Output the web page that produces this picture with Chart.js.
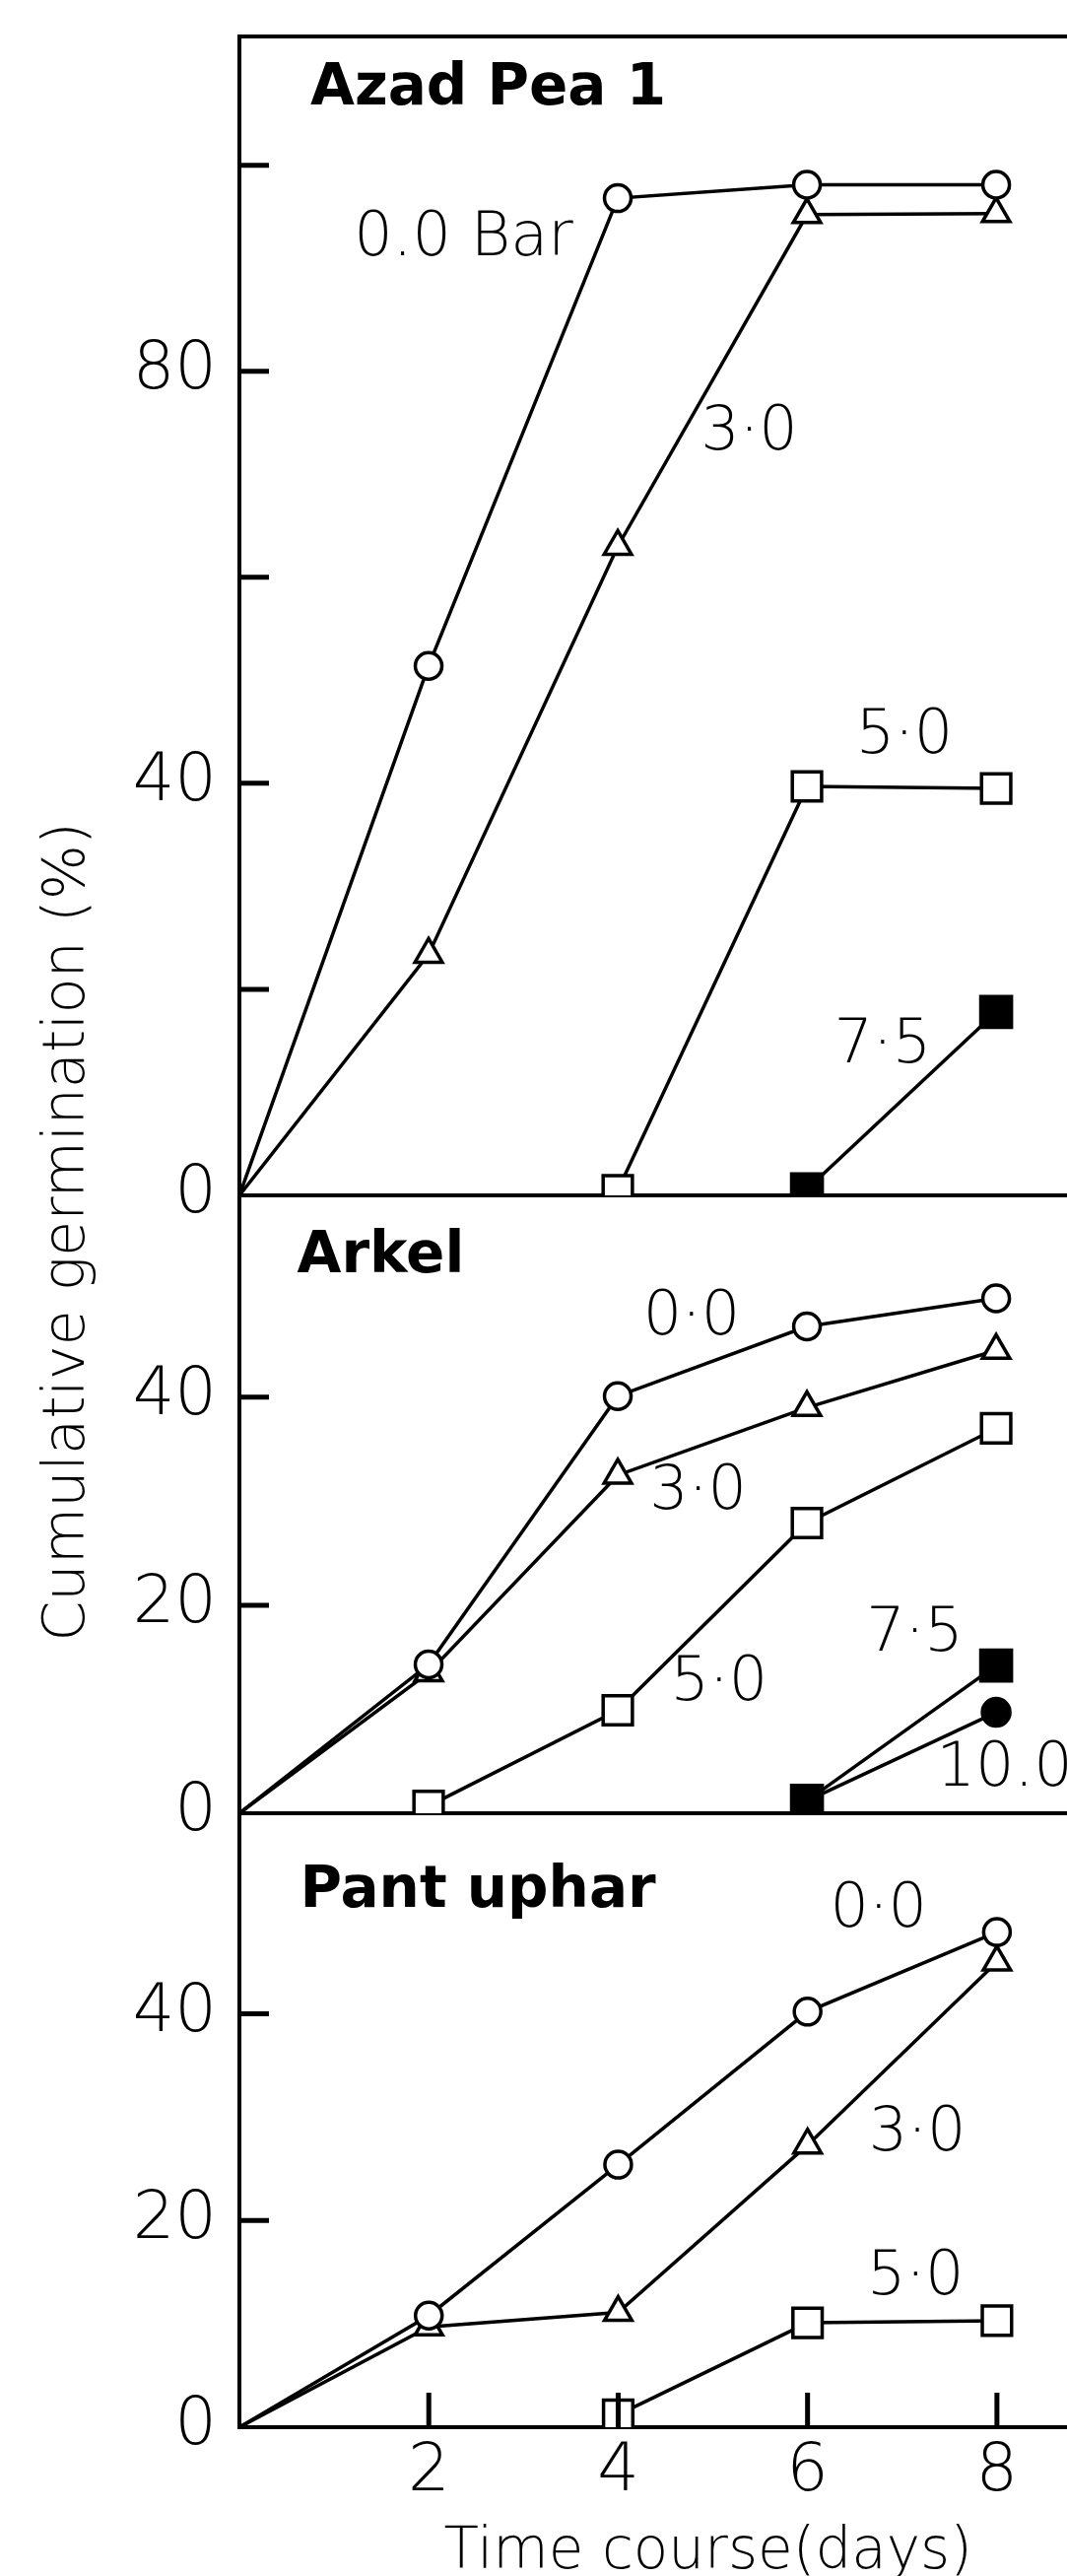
<!DOCTYPE html>
<html>
<head>
<meta charset="utf-8">
<title>Cumulative germination</title>
<script src="https://cdn.jsdelivr.net/npm/chart.js@4.4.1/dist/chart.umd.min.js"></script>
<style>
  html, body { margin: 0; padding: 0; background: #fff; overflow: hidden; }
  #figure { position: relative; width: 1083px; height: 2614px; overflow: hidden; background: #fff; }
  #figure canvas { position: absolute; left: 0; top: 0; }
</style>
</head>
<body>
<div id="figure">
  <canvas id="frame" width="1219" height="2614"></canvas>
  <canvas id="azad" width="1219" height="2614"></canvas>
  <canvas id="arkel" width="1219" height="2614"></canvas>
  <canvas id="pant" width="1219" height="2614"></canvas>
</div>
<script>
// sampling days (x) shared by every series
const days = [0, 2, 4, 6, 8];

// Azad Pea 1, cumulative germination (%) per osmotic potential (bar)
const azad00 = [0, 51.4, 96.8, 98.1, 98.1];
const azad30 = [0, 23.4, 63.0, 95.2, 95.3];
const azad50 = [null, null, 0.5, 39.7, 39.5];
const azad75 = [null, null, null, 0.6, 17.8];

// Arkel
const arkel00 = [0, 14.3, 40.1, 46.8, 49.5];
const arkel30 = [0, 13.5, 32.5, 39.0, 44.5];
const arkel50 = [null, 0.7, 9.9, 27.9, 37.0];
const arkel75 = [null, null, null, 1.2, 14.2];
const arkel100 = [null, null, null, 1.2, 9.7];

// Pant uphar
const pant00 = [0, 10.8, 25.4, 40.2, 47.9];
const pant30 = [0, 9.7, 11.1, 27.3, 45.0];
const pant50 = [null, null, 1.2, 10.1, 10.3];

// tick labels
const xLabels = [2, 4, 6, 8];
const azadYLabels = [0, 40, 80];
const arkelYLabels = [0, 20, 40];
const pantYLabels = [0, 20, 40];

// text written inside the panels (data units)
const azadNotes = [
    { text: 'Azad Pea 1', x: 0.75, y: 107.3, bold: true, align: 'left' },
    { text: '0.0 Bar', x: 2.37, y: 92.8 },
    { text: '3·0', x: 5.39, y: 74.0 },
    { text: '5·0', x: 7.03, y: 44.5 },
    { text: '7·5', x: 6.80, y: 14.5 }
];
const arkelNotes = [
    { text: 'Arkel', x: 0.61, y: 53.4, bold: true, align: 'left' },
    { text: '0·0', x: 4.78, y: 47.6 },
    { text: '3·0', x: 4.85, y: 30.8 },
    { text: '5·0', x: 5.07, y: 12.4 },
    { text: '7·5', x: 7.14, y: 17.2 },
    { text: '10.0', x: 7.37, y: 4.2, align: 'left' }
];
const pantNotes = [
    { text: 'Pant uphar', x: 0.64, y: 51.8, bold: true, align: 'left' },
    { text: '0·0', x: 6.75, y: 50.0 },
    { text: '3·0', x: 7.16, y: 28.3 },
    { text: '5·0', x: 7.14, y: 14.4 }
];

const INK = '#000';
const FONT = '"DejaVu Sans", "Liberation Sans", sans-serif';
const TICK_FONT = { family: FONT, size: 67, weight: '300' };
const X_MAX = 9.9;
const AXIS_W = 243;

const OPEN_CIRCLE = { shape: 'circle', r: 13.5, fill: '#fff' };
const OPEN_TRIANGLE = { shape: 'triangle', r: 16, fill: '#fff' };
const OPEN_SQUARE = { shape: 'rect', r: 21, fill: '#fff' };
const FILLED_SQUARE = { shape: 'rect', r: 22, fill: INK };
const FILLED_CIRCLE = { shape: 'circle', r: 14, fill: INK };

function series(label, values, style, hidden) {
    hidden = hidden || [];
    return {
        label: label,
        data: days.map((d, i) => ({ x: d, y: values[i] })),
        borderColor: INK,
        borderWidth: 3.5,
        tension: 0,
        pointStyle: style.shape,
        pointRadius: c => (c.raw && c.raw.x === 0) || hidden.includes(c.dataIndex) ? 0 : style.r,
        pointBackgroundColor: style.fill,
        pointBorderColor: INK,
        pointBorderWidth: 3.5
    };
}

// no extra room for label overflow: the panels must butt against each other
function noPadding(s) {
    s.paddingTop = 0;
    s.paddingBottom = 0;
    s.paddingLeft = 0;
    s.paddingRight = 0;
}

// labels drawn inside the plot, placed with the chart's own scales
const notesPlugin = {
    id: 'notes',
    afterDatasetsDraw(chart, args, opts) {
        const { ctx, scales: { x, y } } = chart;
        ctx.save();
        ctx.fillStyle = INK;
        ctx.textBaseline = 'middle';
        opts.items.forEach(n => {
            ctx.font = n.bold ? 'bold 58px ' + FONT : '300 62px ' + FONT;
            ctx.textAlign = n.align || 'center';
            ctx.fillText(n.text, x.getPixelForValue(n.x), y.getPixelForValue(n.y));
        });
        ctx.restore();
    }
};

// tick marks pointing into the plot, like the original figure
const innerTicksPlugin = {
    id: 'innerTicks',
    afterDraw(chart, args, opts) {
        const { ctx, chartArea: a, scales: { x, y } } = chart;
        ctx.save();
        ctx.strokeStyle = INK;
        ctx.lineWidth = 5;
        ctx.beginPath();
        y.ticks.forEach(t => {
            if (t.value === 0) return;
            const py = y.getPixelForValue(t.value);
            ctx.moveTo(a.left, py);
            ctx.lineTo(a.left + opts.y, py);
        });
        if (opts.x) {
            x.ticks.forEach(t => {
                if (t.value === 0) return;
                const px = x.getPixelForValue(t.value);
                ctx.moveTo(px, a.bottom);
                ctx.lineTo(px, a.bottom - opts.x);
            });
        }
        ctx.stroke();
        ctx.restore();
    }
};

function panel(id, cfg) {
    const scales = {
        x: {
            type: 'linear',
            min: 0,
            max: X_MAX,
            border: { display: true, color: INK, width: 4 },
            grid: { display: false, drawTicks: false },
            ticks: {
                display: cfg.showX,
                stepSize: 2,
                includeBounds: false,
                autoSkip: false,
                maxRotation: 0,
                padding: 6,
                color: INK,
                font: TICK_FONT,
                callback: v => (xLabels.includes(v) ? String(v) : '')
            },
            title: {
                display: cfg.showX,
                text: 'Time course(days)',
                color: INK,
                padding: 0,
                font: { family: FONT, size: 58, weight: '300', lineHeight: 0.78 }
            },
            afterFit: s => { s.height = cfg.showX ? 151 : 0; noPadding(s); }
        },
        y: {
            min: 0,
            max: cfg.yMax,
            border: { display: true, color: INK, width: 4 },
            grid: { display: false, drawTicks: false },
            ticks: {
                stepSize: 20,
                includeBounds: false,
                autoSkip: false,
                padding: 23,
                color: INK,
                font: TICK_FONT,
                callback: v => (cfg.yLabels.includes(v) ? String(v) : '')
            },
            afterFit: s => { s.width = AXIS_W; noPadding(s); }
        }
    };
    if (cfg.topBorder) {
        scales.xTop = {
            type: 'linear',
            position: 'top',
            min: 0,
            max: X_MAX,
            border: { display: true, color: INK, width: 4 },
            grid: { display: false, drawTicks: false },
            ticks: { display: false },
            afterFit: s => { s.height = 0; noPadding(s); }
        };
    }
    return new Chart(document.getElementById(id), {
        type: 'line',
        data: { datasets: cfg.datasets },
        options: {
            responsive: false,
            animation: false,
            devicePixelRatio: 1,
            layout: { padding: { top: cfg.top, bottom: cfg.bottom, left: 0, right: 0 } },
            plugins: {
                legend: { display: false },
                tooltip: { enabled: false },
                notes: { items: cfg.notes },
                innerTicks: { x: cfg.showX ? 35 : 0, y: 30 }
            },
            scales: scales
        },
        plugins: [notesPlugin, innerTicksPlugin]
    });
}

document.addEventListener('DOMContentLoaded', function() {
    // shared y title, centred on the whole left axis
    new Chart(document.getElementById('frame'), {
        type: 'line',
        data: { datasets: [] },
        options: {
            responsive: false,
            animation: false,
            devicePixelRatio: 1,
            layout: { padding: { top: 37, bottom: 151, left: 0, right: 0 } },
            plugins: { legend: { display: false }, tooltip: { enabled: false } },
            scales: {
                x: { display: false },
                y: {
                    min: 0,
                    max: 1,
                    border: { display: false },
                    grid: { display: false },
                    ticks: { display: false },
                    title: {
                        display: true,
                        text: 'Cumulative germination (%)',
                        color: INK,
                        padding: { top: 34, bottom: 0 },
                        font: { family: FONT, size: 59, weight: '300' }
                    },
                    afterFit: s => { s.width = AXIS_W; noPadding(s); }
                }
            }
        }
    });

    panel('azad', {
        top: 37, bottom: 1401, yMax: 112.5, yLabels: azadYLabels,
        showX: false, topBorder: true, notes: azadNotes,
        datasets: [
            series('0.0', azad00, OPEN_CIRCLE),
            series('3.0', azad30, OPEN_TRIANGLE),
            series('5.0', azad50, OPEN_SQUARE),
            series('7.5', azad75, FILLED_SQUARE)
        ]
    });

    panel('arkel', {
        top: 1213, bottom: 774, yMax: 59.4, yLabels: arkelYLabels,
        showX: false, topBorder: false, notes: arkelNotes,
        datasets: [
            series('0.0', arkel00, OPEN_CIRCLE),
            series('3.0', arkel30, OPEN_TRIANGLE),
            series('5.0', arkel50, OPEN_SQUARE),
            series('7.5', arkel75, FILLED_SQUARE),
            series('10.0', arkel100, FILLED_CIRCLE, [3])
        ]
    });

    panel('pant', {
        top: 1840, bottom: 0, yMax: 59.4, yLabels: pantYLabels,
        showX: true, topBorder: false, notes: pantNotes,
        datasets: [
            series('0.0', pant00, OPEN_CIRCLE),
            series('3.0', pant30, OPEN_TRIANGLE),
            series('5.0', pant50, OPEN_SQUARE)
        ]
    });
});
</script>
</body>
</html>
